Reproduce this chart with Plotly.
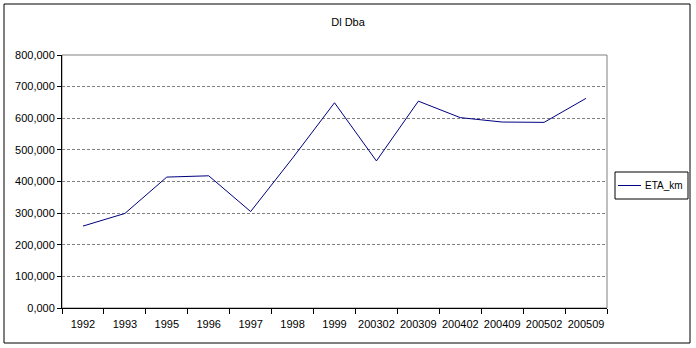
import plotly.graph_objects as go

categories = ["1992", "1993", "1995", "1996", "1997", "1998", "1999",
              "200302", "200309", "200402", "200409", "200502", "200509"]
eta_km = [259000, 299000, 414000, 418000, 305000, 474000, 649000,
          465000, 654000, 602000, 588000, 587000, 663000]
ytick_vals = [0, 100000, 200000, 300000, 400000, 500000, 600000, 700000, 800000]
ytick_text = ["0,000", "100,000", "200,000", "300,000", "400,000",
              "500,000", "600,000", "700,000", "800,000"]
title_text = "Dl Dba"
series_name = "ETA_km"

FONT = "Liberation Sans, Arial, sans-serif"
LINE_COLOR = "#000080"

# pixel -> paper helpers (plot area: x 62..607, y 55..308)
def px(x):
    return (x - 62) / 545

def py(y):
    return (308 - y) / 253

fig = go.Figure()
fig.add_trace(go.Scatter(
    x=categories, y=eta_km, mode="lines", name=series_name,
    line=dict(color=LINE_COLOR, width=1), showlegend=False,
))

fig.update_layout(
    width=696, height=348,
    margin=dict(l=62, r=89, t=55, b=40, autoexpand=False),
    paper_bgcolor="white", plot_bgcolor="white",
    font=dict(family=FONT, size=11, color="black"),
    title=dict(text=title_text, x=0.5, xref="container", xanchor="center",
               y=1 - 22 / 348, yref="container", yanchor="middle",
               font=dict(family=FONT, size=11, color="black")),
    showlegend=False,
    xaxis=dict(type="category", range=[-0.5, len(categories) - 0.5],
               showline=True, linecolor="black", linewidth=1,
               ticks="outside", tickson="boundaries", ticklen=5, tickcolor="black",
               tickangle=0, tickfont=dict(family=FONT, size=11),
               ticklabelstandoff=6,
               showgrid=False, zeroline=False, fixedrange=True),
    yaxis=dict(range=[0, 800000], tickvals=ytick_vals, ticktext=ytick_text,
               showline=True, linecolor="black", linewidth=1,
               ticks="outside", ticklen=4, tickcolor="black",
               tickfont=dict(family=FONT, size=11),
               showgrid=True, gridcolor="#808080", griddash="3px,2px", gridwidth=1,
               zeroline=False, fixedrange=True),
    shapes=[
        dict(type="rect", xref="paper", yref="paper", x0=0, x1=1, y0=0, y1=1,
             line=dict(color="#808080", width=1), layer="below"),
        dict(type="rect", xref="paper", yref="paper",
             x0=px(4), x1=px(690), y0=py(343), y1=py(4),
             line=dict(color="black", width=1)),
        # legend box and sample line
        dict(type="rect", xref="paper", yref="paper",
             x0=px(615), x1=px(688), y0=py(199), y1=py(172),
             line=dict(color="black", width=1), fillcolor="white"),
        dict(type="line", xref="paper", yref="paper",
             x0=px(618), x1=px(641), y0=py(185.5), y1=py(185.5),
             line=dict(color=LINE_COLOR, width=1)),
    ],
    annotations=[
        dict(text=series_name, xref="paper", yref="paper",
             x=px(643), y=py(185.5), xanchor="left", yanchor="middle",
             showarrow=False, font=dict(family=FONT, size=10, color="black")),
    ],
)

fig.write_html("out.html")
